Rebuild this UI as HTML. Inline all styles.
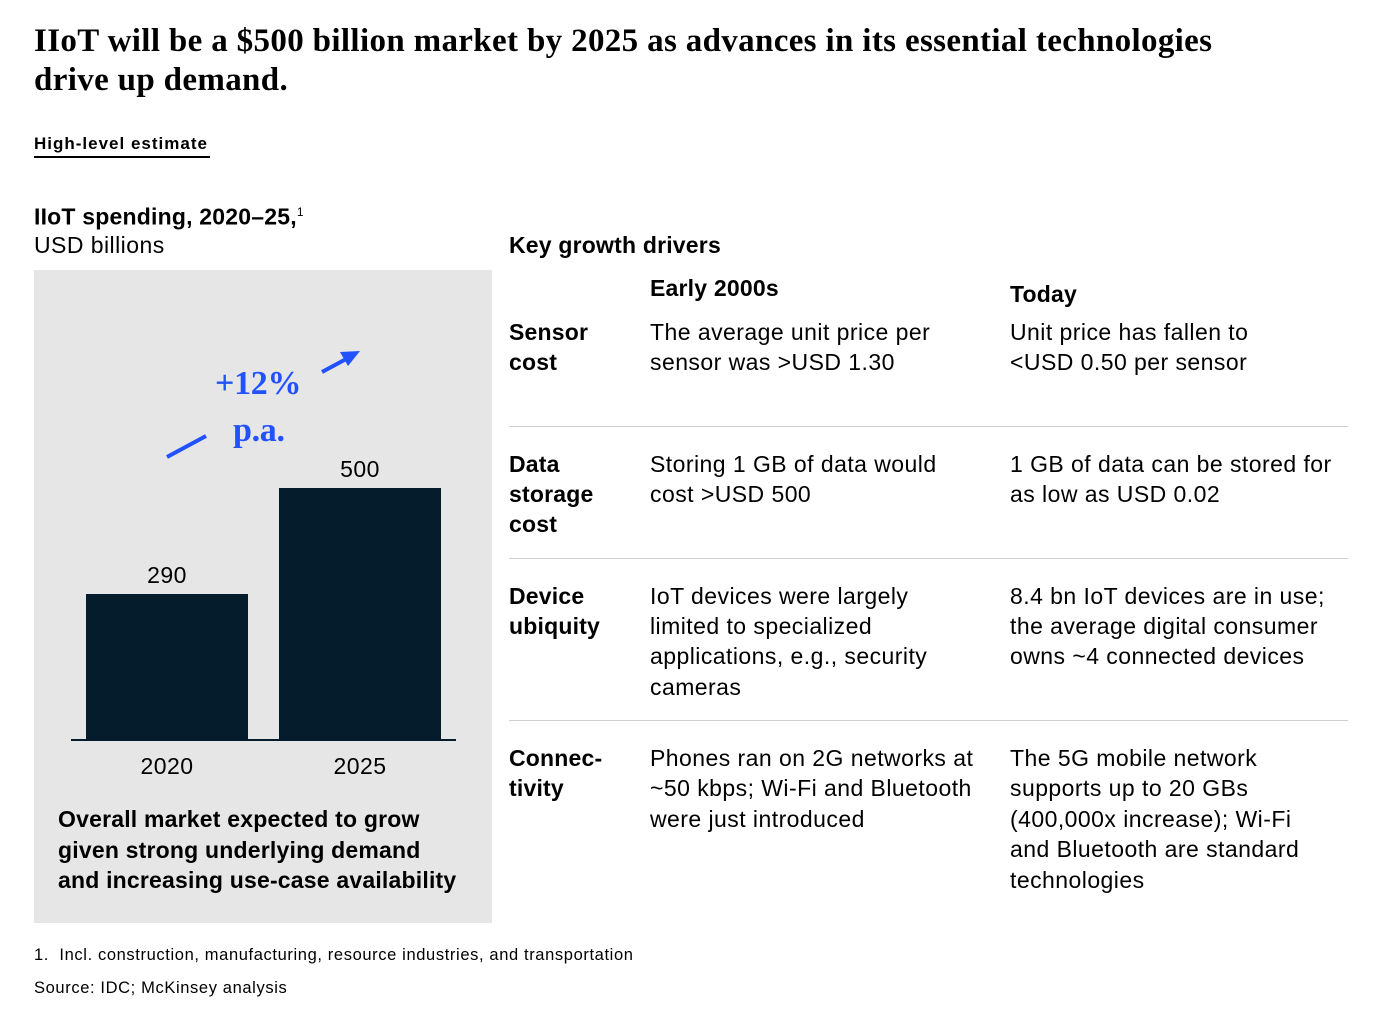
<!DOCTYPE html>
<html><head><meta charset="utf-8"><style>
body{margin:0;width:1378px;height:1018px;background:#fff;position:relative;overflow:hidden;font-family:"Liberation Sans",sans-serif;color:#000}
.t{position:absolute;white-space:nowrap;font-size:23px;line-height:30px;letter-spacing:0.45px}
.b{font-weight:bold;letter-spacing:0.2px}
.s{font-family:"Liberation Serif",serif;font-weight:bold;font-size:33px;line-height:39px;letter-spacing:0.35px}
.f{font-size:16.5px;line-height:20px;letter-spacing:0.62px}
.hr{position:absolute;left:509px;width:839px;height:1px;background:#cfcfcf}
</style></head><body>
<div class="t s" style="left:34px;top:22px">IIoT will be a $500 billion market by 2025 as advances in its essential technologies</div>
<div class="t s" style="left:34px;top:61px">drive up demand.</div>
<div class="t b" style="left:34px;top:133px;font-size:17px;line-height:22px;letter-spacing:1px">High-level estimate</div>
<div style="position:absolute;left:34px;top:156px;width:176px;height:1.5px;background:#000"></div>
<div class="t b" style="left:34px;top:197px">IIoT spending, 2020–25,<sup style="font-size:12px;font-weight:normal">1</sup></div>
<div class="t" style="left:34px;top:230px">USD billions</div>
<div style="position:absolute;left:34px;top:270px;width:458px;height:653px;background:#e6e6e6"></div>
<div style="position:absolute;left:86px;top:594px;width:162px;height:146px;background:#051c2c"></div>
<div style="position:absolute;left:279px;top:488px;width:162px;height:252px;background:#051c2c"></div>
<div style="position:absolute;left:71px;top:739px;width:385px;height:2px;background:#051c2c"></div>
<div class="t" style="left:86px;width:162px;text-align:center;top:560px">290</div>
<div class="t" style="left:279px;width:162px;text-align:center;top:454px">500</div>
<div class="t" style="left:86px;width:162px;text-align:center;top:751px">2020</div>
<div class="t" style="left:279px;width:162px;text-align:center;top:751px">2025</div>
<svg style="position:absolute;left:0;top:0" width="500" height="500">
<line x1="167" y1="457" x2="206" y2="436" stroke="#2251ff" stroke-width="4"/>
<line x1="322" y1="372" x2="348" y2="358" stroke="#2251ff" stroke-width="4"/>
<polygon points="360,351 340,352 348,366" fill="#2251ff"/>
</svg>
<div class="t s" style="left:215px;top:364px;color:#2251ff;font-size:34px;letter-spacing:-0.3px">+12%</div>
<div class="t s" style="left:233px;top:411px;color:#2251ff;font-size:34px;letter-spacing:-0.3px">p.a.</div>
<div class="t b" style="left:58px;top:804px">Overall market expected to grow</div>
<div class="t b" style="left:58px;top:835px">given strong underlying demand</div>
<div class="t b" style="left:58px;top:865px">and increasing use-case availability</div>

<div class="t b" style="left:509px;top:230px">Key growth drivers</div>
<div class="t b" style="left:650px;top:273px">Early 2000s</div>
<div class="t b" style="left:1010px;top:279px">Today</div>

<div class="t b" style="left:509px;top:317px">Sensor</div>
<div class="t b" style="left:509px;top:347px">cost</div>
<div class="t" style="left:650px;top:317px">The average unit price per</div>
<div class="t" style="left:650px;top:347px">sensor was &gt;USD 1.30</div>
<div class="t" style="left:1010px;top:317px">Unit price has fallen to</div>
<div class="t" style="left:1010px;top:347px">&lt;USD 0.50 per sensor</div>
<div class="hr" style="top:426px"></div>

<div class="t b" style="left:509px;top:449px">Data</div>
<div class="t b" style="left:509px;top:479px">storage</div>
<div class="t b" style="left:509px;top:509px">cost</div>
<div class="t" style="left:650px;top:449px">Storing 1 GB of data would</div>
<div class="t" style="left:650px;top:479px">cost &gt;USD 500</div>
<div class="t" style="left:1010px;top:449px">1 GB of data can be stored for</div>
<div class="t" style="left:1010px;top:479px">as low as USD 0.02</div>
<div class="hr" style="top:558px"></div>

<div class="t b" style="left:509px;top:581px">Device</div>
<div class="t b" style="left:509px;top:611px">ubiquity</div>
<div class="t" style="left:650px;top:581px">IoT devices were largely</div>
<div class="t" style="left:650px;top:611px">limited to specialized</div>
<div class="t" style="left:650px;top:641px">applications, e.g., security</div>
<div class="t" style="left:650px;top:672px">cameras</div>
<div class="t" style="left:1010px;top:581px">8.4 bn IoT devices are in use;</div>
<div class="t" style="left:1010px;top:611px">the average digital consumer</div>
<div class="t" style="left:1010px;top:641px">owns ~4 connected devices</div>
<div class="hr" style="top:720px"></div>

<div class="t b" style="left:509px;top:743px">Connec-</div>
<div class="t b" style="left:509px;top:773px">tivity</div>
<div class="t" style="left:650px;top:743px">Phones ran on 2G networks at</div>
<div class="t" style="left:650px;top:773px">~50 kbps; Wi-Fi and Bluetooth</div>
<div class="t" style="left:650px;top:804px">were just introduced</div>
<div class="t" style="left:1010px;top:743px">The 5G mobile network</div>
<div class="t" style="left:1010px;top:773px">supports up to 20 GBs</div>
<div class="t" style="left:1010px;top:804px">(400,000x increase); Wi-Fi</div>
<div class="t" style="left:1010px;top:834px">and Bluetooth are standard</div>
<div class="t" style="left:1010px;top:865px">technologies</div>

<div class="t f" style="left:34px;top:945px">1.&nbsp; Incl. construction, manufacturing, resource industries, and transportation</div>
<div class="t f" style="left:34px;top:978px">Source: IDC; McKinsey analysis</div>
</body></html>
